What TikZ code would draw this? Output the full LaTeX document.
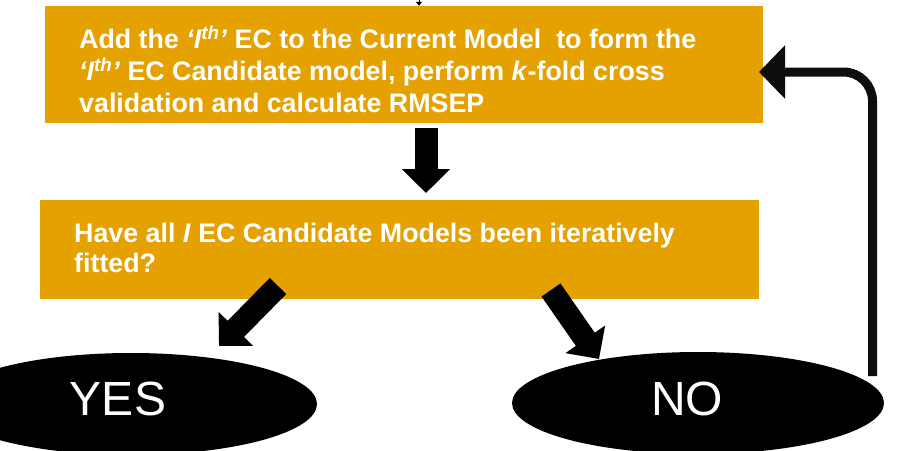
\documentclass[tikz,border=0pt]{standalone}
\usepackage{fontspec}
\setmainfont{Liberation Sans}
\usetikzlibrary{arrows.meta,shapes.geometric,calc}
\definecolor{boxorange}{RGB}{228,161,0}
\tikzset{
  procbox/.style={rectangle, fill=boxorange, inner sep=0pt},
  boxtext/.style={anchor=base west, inner sep=0pt, align=left, text=white,
    font=\fontsize{26.8}{32}\selectfont\bfseries},
  blockarrow/.style={line width=23pt, draw=black, -{Triangle[width=47pt,length=24pt]}},
  answer/.style={ellipse, fill=black, inner sep=0pt, minimum width=372pt, minimum height=102pt},
  answertext/.style={anchor=base, inner sep=0pt, text=white, font=\fontsize{48}{48}\selectfont},
  loopline/.style={line width=9pt, draw=black!95, rounded corners=29pt, -{Triangle[width=52pt,length=26pt]}}
}
\begin{document}
\begin{tikzpicture}[x=1pt,y=-1pt]
\useasboundingbox (0,0) rectangle (908,450);
\clip (0,0) rectangle (908,450);
% boxes
\node[procbox, minimum width=718pt, minimum height=117pt] (box1) at (404,64.5) {};
\node[procbox, minimum width=719pt, minimum height=99pt] (box2) at (399.5,249.5) {};
% texts (anchored at the baseline of the last line)
\node[boxtext] (t1) at (79,112.5) {Add the \textit{‘I\textsuperscript{th}’} EC to the Current Model\ \ to form the\\
\textit{‘I\textsuperscript{th}’} EC Candidate model, perform \textit{k}-fold cross\\
validation and calculate RMSEP};
\node[boxtext, font=\fontsize{26.8}{30}\selectfont\bfseries] (t2) at (74,272) {Have all \textit{I} EC Candidate Models been iteratively\\fitted?};
% ellipses
\node[answer] (yes) at (131,404) {};
\node[answer] (no) at (698,403) {};
\node[answertext] (yest) at (118,415) {YES};
\node[answertext] (not) at (687,415) {NO};
% incoming arrow at the top
\coordinate (topin) at (419,-6);
\draw[line width=1pt, -{Triangle[width=6pt,length=4pt]}] (topin) -- (box1.north -| topin);
% block arrows
\coordinate (a1s) at (426,128);
\coordinate (a1e) at (426,193);
\draw[blockarrow] (a1s) -- (a1e);
\coordinate (a2s) at (278,286);
\coordinate (a2e) at (219,346);
\draw[blockarrow] (a2s) -- (a2e);
\coordinate (a3s) at (551,290);
\coordinate (a3e) at (599,359);
\draw[blockarrow] (a3s) -- (a3e);
% loop back
\coordinate (loopstart) at (872.5,376);
\coordinate (loopend) at (759,72);
\draw[loopline] (loopstart) |- (loopend);
\end{tikzpicture}
\end{document}
